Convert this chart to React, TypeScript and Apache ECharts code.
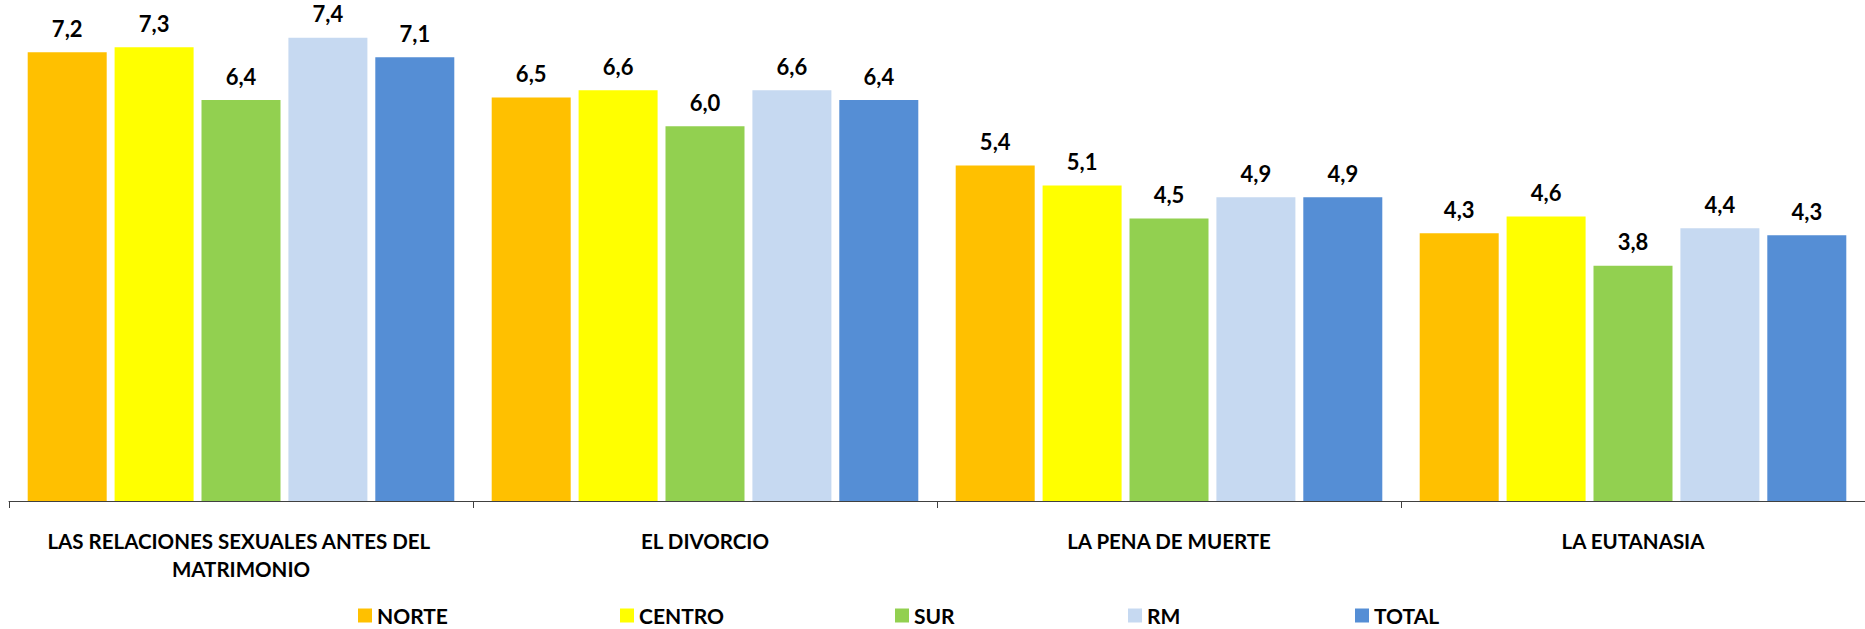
import React, { useEffect, useRef } from "react";
import * as echarts from "echarts";

const categories = [
  "LAS RELACIONES SEXUALES ANTES DEL MATRIMONIO",
  "EL DIVORCIO",
  "LA PENA DE MUERTE",
  "LA EUTANASIA",
];
const seriesNames = ["NORTE", "CENTRO", "SUR", "RM", "TOTAL"];
const norte = [7.21, 6.48, 5.39, 4.3];
const centro = [7.29, 6.6, 5.07, 4.57];
const sur = [6.44, 6.02, 4.54, 3.78];
const rm = [7.44, 6.6, 4.88, 4.38];
const total = [7.13, 6.44, 4.88, 4.27];
const colors = ["#FFC000", "#FFFF00", "#92D050", "#C6D9F1", "#558ED5"];
const legendLeft = [358, 620, 895, 1128, 1355];

const FONT = "Lato";

export default function App() {
  const ref = useRef<HTMLDivElement>(null);
  useEffect(() => {
    if (!ref.current) return;
    const chart = echarts.init(ref.current, null, { renderer: "svg" });
    const values = [norte, centro, sur, rm, total];
    chart.setOption({
      animation: false,
      backgroundColor: "#ffffff",
      grid: { left: 9, top: 3, width: 1862, bottom: 128, containLabel: false },
      legend: seriesNames.map((n, i) => ({
        data: [n],
        left: legendLeft[i],
        top: 605,
        itemWidth: 14,
        itemHeight: 14,
        itemGap: 0,
        padding: 0,
        icon: "rect",
        textStyle: {
          fontFamily: FONT,
          fontWeight: "bold",
          fontSize: 21,
          color: "#000",
          lineHeight: 18,
        },
      })),
      xAxis: {
        type: "category",
        data: categories,
        axisLine: { show: true, lineStyle: { color: "#404040", width: 1 } },
        axisTick: { show: true, length: 7, lineStyle: { color: "#404040" } },
        axisLabel: {
          interval: 0,
          margin: 26,
          width: 440,
          overflow: "break",
          fontFamily: FONT,
          fontWeight: "bold",
          fontSize: 20.5,
          lineHeight: 28,
          color: "#000",
          align: "center",
        },
      },
      yAxis: {
        type: "value",
        min: 0,
        max: 8,
        show: false,
        splitLine: { show: false },
      },
      series: seriesNames.map((n, i) => ({
        name: n,
        type: "bar",
        data: values[i],
        barWidth: 79,
        barGap: "10%",
        itemStyle: { color: colors[i] },
        label: {
          show: true,
          position: "top",
          distance: 13,
          fontFamily: FONT,
          fontWeight: "bold",
          fontSize: 22,
          color: "#000",
          formatter: (p: any) => Number(p.value).toFixed(1).replace(".", ","),
        },
      })),
    });
    return () => chart.dispose();
  }, []);
  return (
    <div
      ref={ref}
      style={{ position: "absolute", left: 0, top: 0, width: 1865, height: 629 }}
    />
  );
}
